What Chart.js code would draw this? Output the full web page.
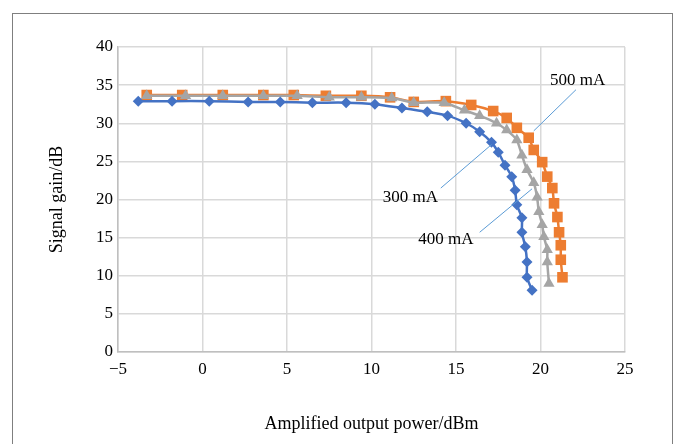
<!DOCTYPE html>
<html>
<head>
<meta charset="utf-8">
<script src="https://cdn.jsdelivr.net/npm/chart.js@4.4.1/dist/chart.umd.min.js"></script>
<style>
  html, body { margin: 0; padding: 0; background: #fff; }
  #wrap { position: relative; width: 679px; height: 444px; overflow: hidden; }
  #frame { position: absolute; left: 12px; top: 13px; width: 659px; height: 440px;
           border: 1px solid #7f7f7f; border-bottom: none; }
  canvas { position: absolute; left: 0; top: 0; }
</style>
</head>
<body>
<div id="wrap">
  <div id="frame"></div>
  <canvas id="gain" width="679" height="444"></canvas>
</div>
<script>
// --- data ---
const power300 = [-3.8, -1.8, 0.4, 2.7, 4.6, 6.5, 8.5, 10.2, 11.8, 13.3, 14.5, 15.6, 16.4, 17.1, 17.5, 17.9, 18.3, 18.5, 18.6, 18.9, 18.9, 19.1, 19.2, 19.2, 19.5];
const gain300  = [32.9, 32.9, 32.9, 32.8, 32.8, 32.7, 32.7, 32.5, 32.0, 31.5, 31.0, 30.0, 28.9, 27.5, 26.2, 24.5, 23.0, 21.2, 19.3, 17.6, 15.7, 13.8, 11.8, 9.8, 8.1];

const power400 = [-3.3, -1.0, 1.2, 3.6, 5.6, 7.5, 9.4, 11.2, 12.5, 14.3, 15.5, 16.4, 17.4, 18.0, 18.6, 18.9, 19.2, 19.6, 19.8, 19.9, 20.1, 20.2, 20.4, 20.4, 20.5];
const gain400  = [33.6, 33.6, 33.6, 33.6, 33.6, 33.4, 33.4, 33.3, 32.7, 32.7, 31.7, 31.0, 30.0, 29.1, 27.8, 25.8, 23.9, 22.2, 20.3, 18.4, 16.7, 15.1, 13.4, 11.8, 9.0];

const power500 = [-3.3, -1.2, 1.2, 3.6, 5.4, 7.3, 9.4, 11.1, 12.5, 14.4, 15.9, 17.2, 18.0, 18.6, 19.3, 19.6, 20.1, 20.4, 20.7, 20.8, 21.0, 21.1, 21.2, 21.2, 21.3];
const gain500  = [33.7, 33.7, 33.7, 33.7, 33.7, 33.6, 33.6, 33.4, 32.8, 32.9, 32.4, 31.6, 30.7, 29.4, 28.1, 26.5, 24.9, 23.0, 21.5, 19.5, 17.7, 15.7, 14.0, 12.1, 9.8];

const xTicks = [-5, 0, 5, 10, 15, 20, 25];
const yTicks = [0, 5, 10, 15, 20, 25, 30, 35, 40];

// callout labels with leader lines (data units)
const callouts = [
  { text: '500 mA', at: [22.2, 35.6], from: [22.1, 34.4], to: [19.6, 29.0] },
  { text: '300 mA', at: [12.3, 20.3], from: [14.1, 21.5], to: [17.1, 27.2] },
  { text: '400 mA', at: [14.4, 14.7], from: [16.4, 15.7], to: [19.5, 21.4] }
];

const serif = "'Liberation Serif', 'DejaVu Serif', serif";

function toPoints(xs, ys) {
  return xs.map((x, i) => ({ x, y: ys[i] }));
}

const calloutPlugin = {
  id: 'callouts',
  afterDatasetsDraw(chart) {
    const { ctx, scales: { x, y } } = chart;
    ctx.save();
    ctx.strokeStyle = '#5b9bd5';
    ctx.lineWidth = 1;
    callouts.forEach(c => {
      ctx.beginPath();
      ctx.moveTo(x.getPixelForValue(c.from[0]), y.getPixelForValue(c.from[1]));
      ctx.lineTo(x.getPixelForValue(c.to[0]), y.getPixelForValue(c.to[1]));
      ctx.stroke();
    });
    ctx.fillStyle = '#000';
    ctx.font = '17px ' + serif;
    ctx.textAlign = 'center';
    ctx.textBaseline = 'middle';
    callouts.forEach(c => {
      ctx.fillText(c.text, x.getPixelForValue(c.at[0]), y.getPixelForValue(c.at[1]));
    });
    ctx.restore();
  }
};

function series(label, xs, ys, color, style, radius) {
  return {
    label,
    data: toPoints(xs, ys),
    borderColor: color,
    backgroundColor: color,
    borderWidth: 2.5,
    pointStyle: style,
    pointRadius: radius,
    pointBorderWidth: 0,
    pointBackgroundColor: color,
    tension: 0.2
  };
}

new Chart(document.getElementById('gain').getContext('2d'), {
  type: 'line',
  data: {
    datasets: [
      series('300 mA', power300, gain300, '#4472c4', 'rectRot', 5.5),
      series('400 mA', power400, gain400, '#a5a5a5', 'triangle', 6.5),
      series('500 mA', power500, gain500, '#ed7d31', 'rect', 7.5)
    ]
  },
  options: {
    responsive: false,
    animation: false,
    layout: { padding: { left: 46, top: 47, right: 54, bottom: 0 } },
    plugins: { legend: { display: false }, tooltip: { enabled: false } },
    scales: {
      x: {
        type: 'linear',
        min: -5, max: 25,
        afterBuildTicks: (s) => { s.ticks = xTicks.map(v => ({ value: v })); },
        afterFit: (s) => { s.height = 92; },
        grid: { color: '#d9d9d9', lineWidth: 1.5, drawTicks: false },
        border: { color: '#bfbfbf', width: 1.5 },
        ticks: {
          padding: 7,
          color: '#000',
          font: { family: serif, size: 17 },
          callback: (v) => String(v).replace('-', '\u2212')
        },
        title: {
          display: true,
          text: 'Amplified output power/dBm',
          color: '#000',
          font: { family: serif, size: 18 },
          padding: { top: 0, bottom: 9 }
        }
      },
      y: {
        min: 0, max: 40,
        afterBuildTicks: (s) => { s.ticks = yTicks.map(v => ({ value: v })); },
        afterFit: (s) => { s.width = 72; },
        grid: { color: '#d9d9d9', lineWidth: 1.5, drawTicks: false },
        border: { color: '#bfbfbf', width: 1.5 },
        ticks: {
          padding: 5,
          color: '#000',
          font: { family: serif, size: 17 }
        },
        title: {
          display: true,
          text: 'Signal gain/dB',
          color: '#000',
          font: { family: serif, size: 18 },
          padding: { top: 0, bottom: 0 }
        }
      }
    }
  },
  plugins: [calloutPlugin]
});
</script>
</body>
</html>
